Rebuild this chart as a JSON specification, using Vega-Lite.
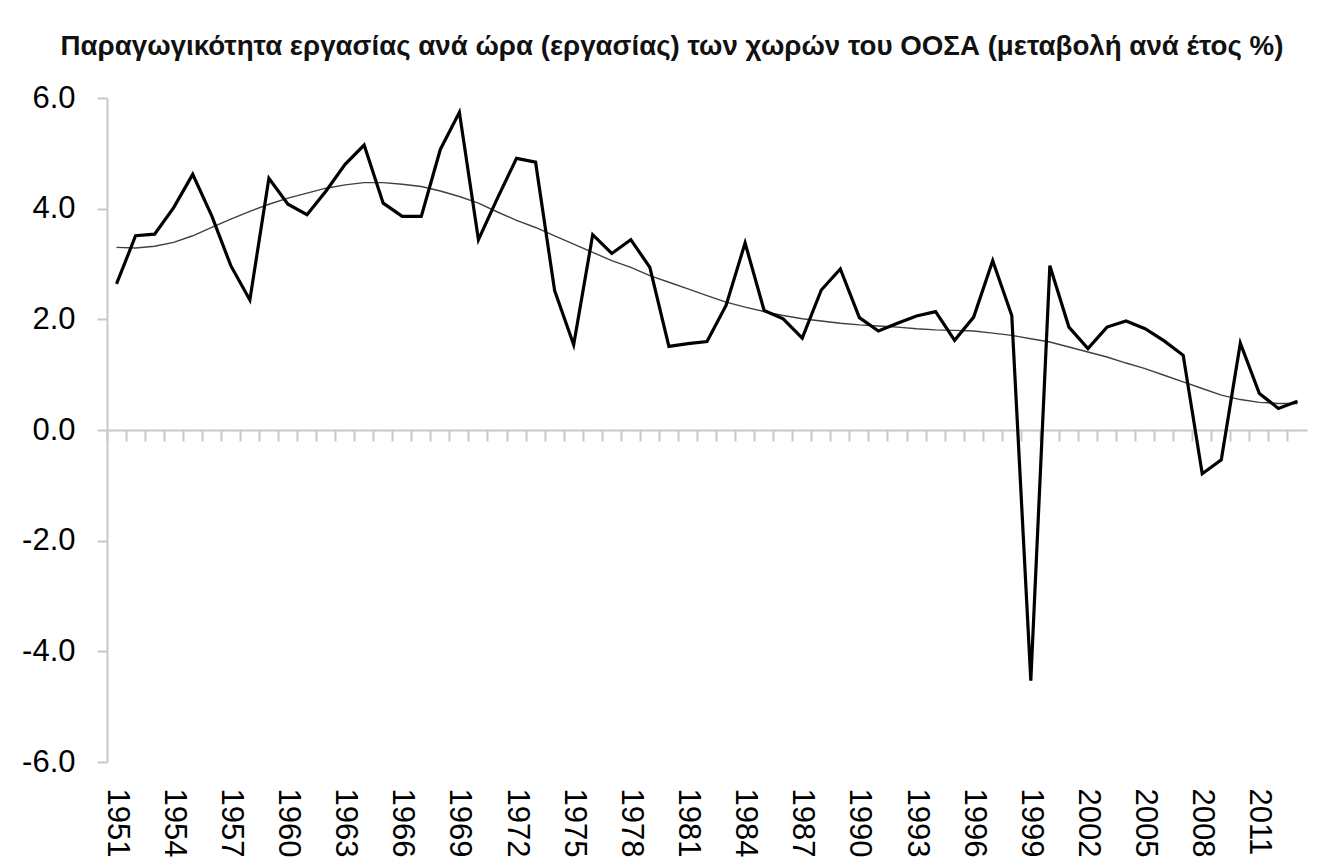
{
  "$schema": "https://vega.github.io/schema/vega-lite/v6.json",
  "width": 1200,
  "height": 664,
  "autosize": "none",
  "padding": {"left": 107, "top": 98, "right": 22, "bottom": 104},
  "background": "white",
  "config": {"font": "Liberation Sans", "view": {"stroke": null}},
  "title": {
    "text": "Παραγωγικότητα εργασίας ανά ώρα (εργασίας) των χωρών του ΟΟΣΑ (μεταβολή ανά έτος %)",
    "font": "Liberation Sans",
    "fontSize": 27.7,
    "fontWeight": "bold",
    "color": "#111111",
    "anchor": "middle",
    "dx": -35,
    "offset": 21
  },
  "data": {
    "values": [
      {"year": 1951, "value": 2.64, "trend": 3.30},
      {"year": 1952, "value": 3.51, "trend": 3.29},
      {"year": 1953, "value": 3.54, "trend": 3.32},
      {"year": 1954, "value": 4.02, "trend": 3.39},
      {"year": 1955, "value": 4.62, "trend": 3.51},
      {"year": 1956, "value": 3.87, "trend": 3.66},
      {"year": 1957, "value": 2.97, "trend": 3.81},
      {"year": 1958, "value": 2.35, "trend": 3.95},
      {"year": 1959, "value": 4.55, "trend": 4.08},
      {"year": 1960, "value": 4.08, "trend": 4.19},
      {"year": 1961, "value": 3.89, "trend": 4.28},
      {"year": 1962, "value": 4.32, "trend": 4.37},
      {"year": 1963, "value": 4.80, "trend": 4.43},
      {"year": 1964, "value": 5.15, "trend": 4.47},
      {"year": 1965, "value": 4.10, "trend": 4.47},
      {"year": 1966, "value": 3.86, "trend": 4.44},
      {"year": 1967, "value": 3.86, "trend": 4.40},
      {"year": 1968, "value": 5.07, "trend": 4.32},
      {"year": 1969, "value": 5.74, "trend": 4.22},
      {"year": 1970, "value": 3.44, "trend": 4.10},
      {"year": 1971, "value": 4.19, "trend": 3.94},
      {"year": 1972, "value": 4.91, "trend": 3.79},
      {"year": 1973, "value": 4.84, "trend": 3.66},
      {"year": 1974, "value": 2.52, "trend": 3.51},
      {"year": 1975, "value": 1.54, "trend": 3.36},
      {"year": 1976, "value": 3.53, "trend": 3.21},
      {"year": 1977, "value": 3.19, "trend": 3.06},
      {"year": 1978, "value": 3.44, "trend": 2.94},
      {"year": 1979, "value": 2.94, "trend": 2.79},
      {"year": 1980, "value": 1.51, "trend": 2.67},
      {"year": 1981, "value": 1.56, "trend": 2.55},
      {"year": 1982, "value": 1.60, "trend": 2.43},
      {"year": 1983, "value": 2.25, "trend": 2.31},
      {"year": 1984, "value": 3.38, "trend": 2.22},
      {"year": 1985, "value": 2.16, "trend": 2.14},
      {"year": 1986, "value": 2.01, "trend": 2.07},
      {"year": 1987, "value": 1.66, "trend": 2.01},
      {"year": 1988, "value": 2.53, "trend": 1.97},
      {"year": 1989, "value": 2.91, "trend": 1.93},
      {"year": 1990, "value": 2.03, "trend": 1.90},
      {"year": 1991, "value": 1.79, "trend": 1.88},
      {"year": 1992, "value": 1.93, "trend": 1.86},
      {"year": 1993, "value": 2.06, "trend": 1.83},
      {"year": 1994, "value": 2.14, "trend": 1.81},
      {"year": 1995, "value": 1.62, "trend": 1.80},
      {"year": 1996, "value": 2.04, "trend": 1.79},
      {"year": 1997, "value": 3.06, "trend": 1.75},
      {"year": 1998, "value": 2.07, "trend": 1.71},
      {"year": 1999, "value": -4.53, "trend": 1.65},
      {"year": 2000, "value": 2.97, "trend": 1.59},
      {"year": 2001, "value": 1.86, "trend": 1.50},
      {"year": 2002, "value": 1.47, "trend": 1.41},
      {"year": 2003, "value": 1.86, "trend": 1.32},
      {"year": 2004, "value": 1.97, "trend": 1.21},
      {"year": 2005, "value": 1.83, "trend": 1.11},
      {"year": 2006, "value": 1.61, "trend": 0.99},
      {"year": 2007, "value": 1.35, "trend": 0.87},
      {"year": 2008, "value": -0.79, "trend": 0.75},
      {"year": 2009, "value": -0.54, "trend": 0.63},
      {"year": 2010, "value": 1.57, "trend": 0.55},
      {"year": 2011, "value": 0.66, "trend": 0.50},
      {"year": 2012, "value": 0.39, "trend": 0.48},
      {"year": 2013, "value": 0.52, "trend": 0.48}
    ]
  },
  "layer": [
    {
      "mark": {"type": "line", "color": "#404040", "strokeWidth": 1.4},
      "encoding": {
        "x": {
          "field": "year",
          "type": "ordinal",
          "scale": {"type": "band", "paddingInner": 0, "paddingOuter": 0},
          "axis": {
            "orient": "bottom",
            "offset": -332,
            "title": null,
            "labels": false,
            "bandPosition": 0,
            "ticks": true,
            "tickSize": 11,
            "tickWidth": 2,
            "tickColor": "#c8c8c8",
            "domain": true,
            "domainColor": "#c8c8c8",
            "domainWidth": 2,
            "grid": false
          }
        },
        "y": {
          "field": "trend",
          "type": "quantitative",
          "scale": {"domain": [-6, 6], "nice": false},
          "axis": {
            "title": null,
            "values": [-6, -4, -2, 0, 2, 4, 6],
            "labelExpr": "(datum.value < 0 ? '-' : '') + format(abs(datum.value), '.1f')",
            "grid": false,
            "tickSize": 10,
            "tickWidth": 2,
            "tickColor": "#c8c8c8",
            "domainColor": "#c8c8c8",
            "domainWidth": 2,
            "labelPadding": 22,
            "labelFontSize": 31,
            "labelColor": "black",
            "labelFont": "Liberation Sans"
          }
        }
      }
    },
    {
      "mark": {"type": "line", "color": "black", "strokeWidth": 3.2},
      "encoding": {
        "x": {
          "field": "year",
          "type": "ordinal",
          "axis": {
            "orient": "bottom",
            "title": null,
            "values": [1951, 1954, 1957, 1960, 1963, 1966, 1969, 1972, 1975, 1978, 1981, 1984, 1987, 1990, 1993, 1996, 1999, 2002, 2005, 2008, 2011],
            "labelAngle": 90,
            "labelFontSize": 31,
            "labelColor": "black",
            "labelFont": "Liberation Sans",
            "labelPadding": 26,
            "ticks": false,
            "tickSize": 0,
            "domain": false,
            "grid": false,
            "labelOverlap": false
          }
        },
        "y": {"field": "value", "type": "quantitative"}
      }
    }
  ],
  "resolve": {"axis": {"x": "independent"}}
}
